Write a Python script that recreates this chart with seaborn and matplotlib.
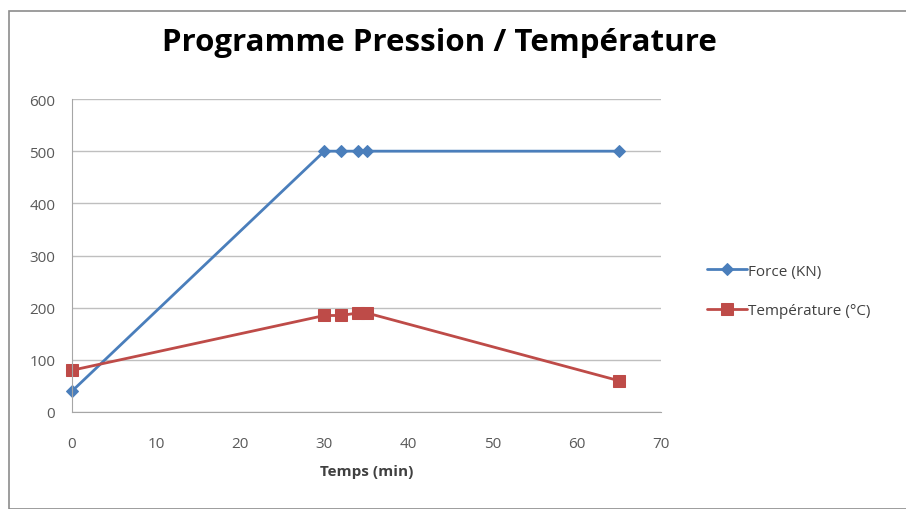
import matplotlib
matplotlib.use("Agg")
import matplotlib.pyplot as plt
import seaborn as sns
import pandas as pd
from matplotlib.patches import Rectangle

time_min = [0, 30, 32, 34, 35, 65]
force_kn = [40, 500, 500, 500, 500, 500]
temp_c = [80, 185, 185, 190, 190, 60]
series_names = ["Force (KN)", "Température (°C)"]
x_ticks = [0, 10, 20, 30, 40, 50, 60, 70]
y_ticks = [0, 100, 200, 300, 400, 500, 600]

sns.set_style("white")
plt.rcParams['font.family'] = ['Open Sans', 'DejaVu Sans']

fig = plt.figure(figsize=(9.06, 5.10), dpi=100)
fig.add_artist(Rectangle((9/906, 0.5/510), 1.2, 497.5/510, transform=fig.transFigure,
                         fill=False, edgecolor='#8c8c8c', linewidth=1.2))
ax = fig.add_axes([72/906, (510-413)/510, (661-72)/906, (413-100)/510])

df = pd.DataFrame({"t": time_min, "force": force_kn, "temp": temp_c})
sns.lineplot(data=df, x="t", y="force", ax=ax, color="#4A7EBB", marker="D",
             markersize=6, linewidth=2, sort=False, label=series_names[0],
             markeredgecolor="#4A7EBB")
sns.lineplot(data=df, x="t", y="temp", ax=ax, color="#BE4B48", marker="s",
             markersize=8, linewidth=2, sort=False, label=series_names[1],
             markeredgecolor="#BE4B48")

ax.set_xlim(0, 70)
ax.set_ylim(0, 600)
ax.set_xticks(x_ticks)
ax.set_yticks(y_ticks)
ax.grid(axis='y', color='#bfbfbf', linewidth=1)
ax.set_axisbelow(True)
for s in ['top', 'right']:
    ax.spines[s].set_visible(False)
for s in ['left', 'bottom']:
    ax.spines[s].set_color('#a6a6a6')
ax.tick_params(axis='both', colors='#595959', labelsize=11, length=5, direction='out',
               color='#a6a6a6')
ax.tick_params(axis='x', pad=12)
ax.tick_params(axis='y', pad=7)
ax.set_xlabel("Temps (min)", fontsize=11, fontweight='bold', color='#404040', labelpad=10)
ax.set_ylabel("")
for line in ax.lines:
    line.set_clip_on(False)

leg = ax.legend(loc='center left', bbox_to_anchor=(1.055, 0.387), frameon=False,
                fontsize=11, labelspacing=1.6, handlelength=2.6, handletextpad=0.1)
for t in leg.get_texts():
    t.set_color('#404040')

fig.text(439/906, 1 - 43/510, "Programme Pression / Température", ha='center', va='center',
         fontsize=22.5, fontweight='bold', color='#000000')

fig.savefig("out.png", dpi=100)
